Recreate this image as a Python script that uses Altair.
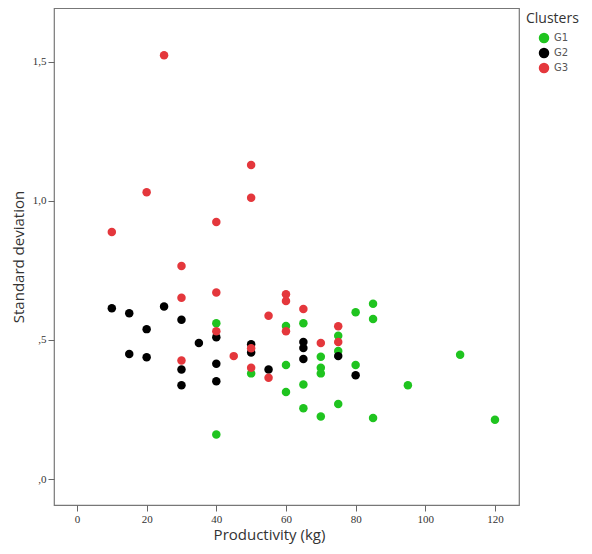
import altair as alt
import pandas as pd

g1_x = [40, 40, 50, 60, 60, 60, 65, 65, 65, 70, 70, 70, 70, 75, 75, 75, 80, 80, 85, 85, 85, 95, 110, 120]
g1_y = [0.56, 0.16, 0.38, 0.55, 0.41, 0.313, 0.56, 0.34, 0.255, 0.44, 0.40, 0.38, 0.225, 0.515, 0.46, 0.27,
        0.60, 0.41, 0.63, 0.575, 0.22, 0.337, 0.447, 0.213]

g2_x = [10, 15, 15, 20, 20, 25, 30, 30, 30, 35, 40, 40, 40, 50, 50, 55, 65, 65, 65, 75, 80]
g2_y = [0.614, 0.596, 0.45, 0.539, 0.438, 0.62, 0.573, 0.394, 0.337, 0.489, 0.51, 0.415, 0.352, 0.485, 0.455,
        0.394, 0.493, 0.471, 0.432, 0.442, 0.373]

g3_x = [10, 20, 25, 30, 30, 30, 40, 40, 40, 45, 50, 50, 50, 50, 55, 55, 60, 60, 60, 65, 70, 75, 75]
g3_y = [0.888, 1.031, 1.523, 0.766, 0.652, 0.426, 0.924, 0.671, 0.531, 0.442, 1.129, 1.011, 0.47, 0.40,
        0.587, 0.364, 0.664, 0.64, 0.531, 0.611, 0.489, 0.549, 0.493]

clusters = ["G1", "G2", "G3"]
colors = ["#1fc41f", "#000000", "#e4373c"]
x_ticks = [0, 20, 40, 60, 80, 100, 120]
y_ticks = [0.0, 0.5, 1.0, 1.5]

rows = []
for c, xs, ys in [("G2", g2_x, g2_y), ("G1", g1_x, g1_y), ("G3", g3_x, g3_y)]:
    for xv, yv in zip(xs, ys):
        rows.append({"Productivity": xv, "SD": yv, "Cluster": c})
df = pd.DataFrame(rows)

chart = alt.Chart(df).mark_circle(size=72, opacity=1).encode(
    x=alt.X("Productivity:Q",
            scale=alt.Scale(domain=[-6.6, 126.9], nice=False, zero=False),
            axis=alt.Axis(title="Productivity (kg)", values=x_ticks, grid=False, domain=False,
                          tickColor="#666", tickSize=6, labelFont="Liberation Serif", labelFontSize=11,
                          labelColor="#333", labelPadding=2, titleFont="Open Sans", titleFontSize=15,
                          titleFontWeight="normal", titleColor="#333", titleX=215, titlePadding=3)),
    y=alt.Y("SD:Q",
            scale=alt.Scale(domain=[-0.093, 1.693], nice=False, zero=False),
            axis=alt.Axis(title="Standard deviation", values=y_ticks, grid=False, domain=False,
                          tickColor="#666", tickSize=6, labelFont="Liberation Serif", labelFontSize=11,
                          labelColor="#333", labelPadding=2,
                          labelExpr="replace(replace(format(datum.value, '.1f'), '.', ','), /^0/, '')",
                          titleFont="Open Sans", titleFontSize=15, titleFontWeight="normal",
                          titleColor="#333", titlePadding=6)),
    color=alt.Color("Cluster:N",
                    scale=alt.Scale(domain=clusters, range=colors),
                    legend=alt.Legend(title="Clusters", orient="none", legendX=472, legendY=4,
                                      titleFont="Open Sans", titleFontSize=14, titleFontWeight="normal",
                                      titleColor="#333", labelFont="DejaVu Sans", labelFontSize=10,
                                      labelColor="#555", symbolSize=110, symbolOffset=12,
                                      symbolType="circle", rowPadding=3, titlePadding=6)),
    order=alt.Order("Cluster:N", sort="ascending"),
).properties(
    width=465, height=497,
    autosize=alt.AutoSizeParams(type="none"),
    padding={"left": 46, "top": 0, "right": 64, "bottom": 41},
).configure_view(stroke="#777", strokeWidth=1.2)

chart.save("out.html", embed_options={"renderer": "svg", "actions": False})
